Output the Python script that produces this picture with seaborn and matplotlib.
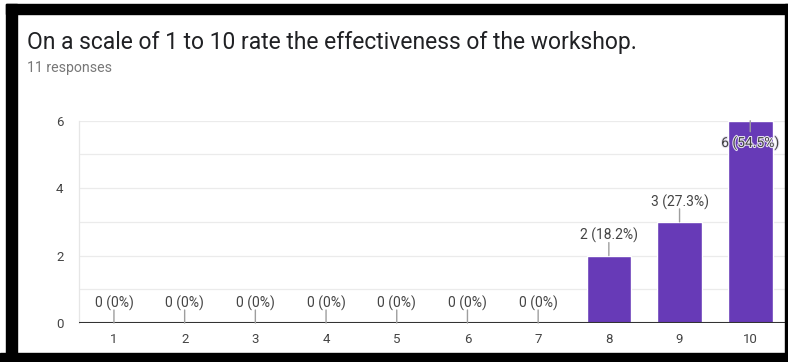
import matplotlib
matplotlib.use("Agg")
import matplotlib.pyplot as plt
import matplotlib.patheffects as pe
from matplotlib.patches import Rectangle
from matplotlib.ticker import FixedLocator
import seaborn as sns
import pandas as pd

# Survey question and responses
title = "On a scale of 1 to 10 rate the effectiveness of the workshop."
subtitle = "11 responses"
ratings = ["1", "2", "3", "4", "5", "6", "7", "8", "9", "10"]
counts = [0, 0, 0, 0, 0, 0, 0, 2, 3, 6]
total_responses = 11
y_major = [0, 2, 4, 6]
y_minor = [1, 3, 5]

sns.set_theme(style="white")
plt.rcParams["font.family"] = ["Roboto", "DejaVu Sans"]

W, H = 788, 362
fig = plt.figure(figsize=(W / 100, H / 100), dpi=100)
fig.patch.set_facecolor("white")

ax = fig.add_axes([78.6 / W, 39 / H, 707 / W, 202.3 / H])
df = pd.DataFrame({"rating": ratings, "count": counts})
sns.barplot(data=df, x="rating", y="count", color="#673ab7", saturation=1,
            width=0.63, ax=ax, zorder=3)

ax.set_xlim(-0.5, len(ratings) - 0.5)
ax.set_ylim(0, 6)
ax.set_xlabel("")
ax.set_ylabel("")
ax.yaxis.set_major_locator(FixedLocator(y_major))
ax.yaxis.set_minor_locator(FixedLocator(y_minor))
ax.yaxis.grid(True, which="both", color="#ebebeb", lw=0.9, zorder=0)
ax.set_axisbelow(True)
ax.tick_params(axis="both", which="both", length=0)
ax.tick_params(axis="y", pad=11, labelsize=9.5, labelcolor="#444444")
ax.tick_params(axis="x", pad=7, labelsize=9.5, labelcolor="#444444")

for side in ["top", "right", "bottom"]:
    ax.spines[side].set_visible(False)
ax.spines["left"].set_color("#e6e6e6")
ax.spines["left"].set_linewidth(0.9)
ax.axhline(0, color="#333333", lw=1.5, zorder=5)

# Value labels with short leader lines
for i, c in enumerate(counts):
    pct = round(c / total_responses * 100, 1)
    label = f"{c} ({pct:g}%)"
    inside = c >= 5.5
    lead = -11 if inside else 13
    txt = -22 if inside else 20
    ax.annotate("", xy=(i, c), xytext=(0, lead), textcoords="offset pixels",
                arrowprops=dict(arrowstyle="-", color="#9e9e9e", lw=1,
                                shrinkA=0, shrinkB=0), zorder=6)
    t = ax.annotate(label, xy=(i, c), xytext=(0, txt), textcoords="offset pixels",
                    ha="center", va="center", fontsize=10, color="#444444",
                    zorder=7, annotation_clip=False)
    if inside:
        t.set_path_effects([pe.withStroke(linewidth=1.5, foreground="#e8e4f2")])

fig.text(27 / W, 1 - 42 / H, title, fontsize=16.5, color="#202124",
         ha="left", va="center")
fig.text(27 / W, 1 - 68 / H, subtitle, fontsize=10.2, color="#777777",
         ha="left", va="center")

# Dark frame around the card
def frame(x0, y0, x1, y1):
    fig.add_artist(Rectangle((x0 / W, 1 - y1 / H), (x1 - x0) / W, (y1 - y0) / H,
                             transform=fig.transFigure, color="black", zorder=20))

frame(6, 4, 17, 362)
frame(6, 4, 788, 14)
frame(785, 4, 788, 362)
frame(0, 353, 788, 362)

fig.savefig("out.png", dpi=100)
